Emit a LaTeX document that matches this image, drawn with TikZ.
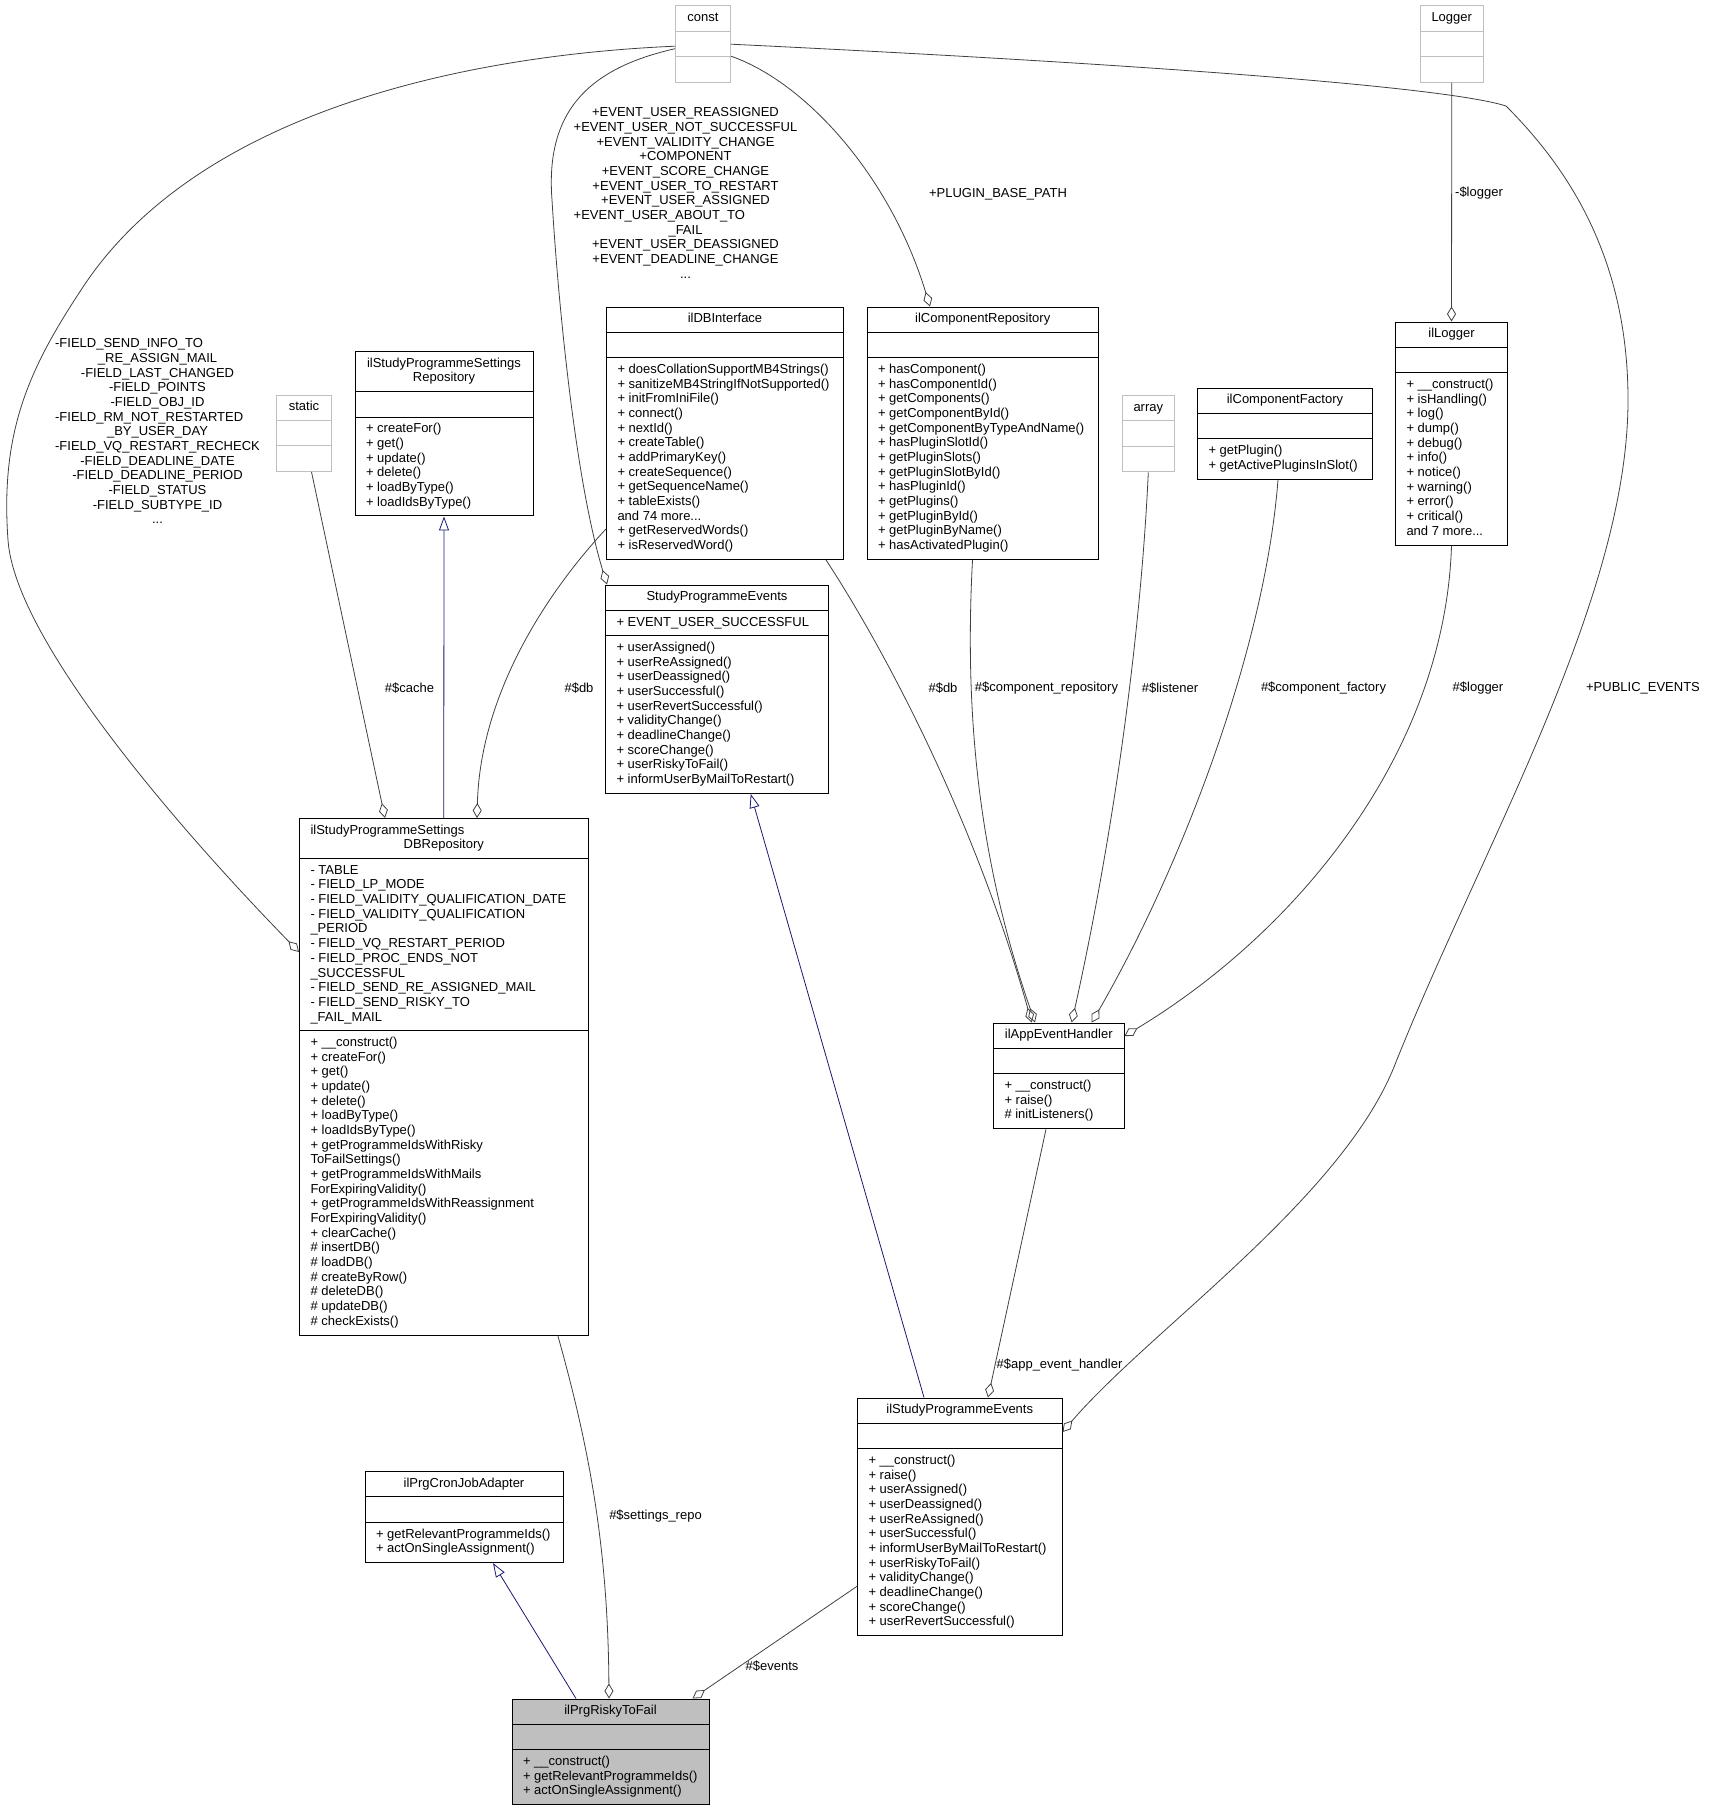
\documentclass[tikz,border=0pt]{standalone}
\usepackage{fontspec}
\setmainfont{Liberation Sans}
\usetikzlibrary{shapes.multipart,arrows.meta}
\definecolor{edgegray}{HTML}{404040}
\definecolor{inhblue}{HTML}{191970}
\definecolor{lightbox}{HTML}{BFBFBF}
\newcommand\umlrows[1]{\begin{tabular}{@{}l@{}}#1\end{tabular}}
\newcommand\umlhead[1]{\begin{tabular}{@{}c@{}}#1\end{tabular}}
\newcommand\umlempty{\rule[-4.4pt]{0pt}{14.67pt}}
\tikzset{
  umlfont/.style={font=\fontsize{13}{14.67}\selectfont},
  cls/.style={umlfont, draw=black, line width=1pt, rectangle split, rectangle split parts=3,
    rectangle split part align={center,left,left}, inner xsep=11pt, inner ysep=4.9pt,
    anchor=north west, fill=white},
  ghost/.style={cls, draw=lightbox},
  focus/.style={cls, fill=lightbox},
  uses/.style={draw=edgegray, line width=0.8pt, -{Diamond[open, length=15pt, width=9pt, line width=0.8pt]}},
  inh/.style={draw=inhblue, line width=0.8pt, -{Triangle[open, length=14pt, width=10pt, line width=0.8pt]}},
  elabel/.style={umlfont, inner sep=0pt, align=center},
}
\begin{document}
\begin{tikzpicture}[x=1pt,y=-1pt]
\useasboundingbox (0,0) rectangle (1708,1811);

% ---------- classes ----------
\node[ghost, minimum width=55pt] (nconst) at (675,5.5) {\umlhead{const}\nodepart{two}\umlempty\nodepart{three}\umlempty};
\node[ghost, minimum width=62pt] (nlogger) at (1420,5.5) {\umlhead{Logger}\nodepart{two}\umlempty\nodepart{three}\umlempty};
\node[ghost, minimum width=55pt] (nstatic) at (276,394.5) {\umlhead{static}\nodepart{two}\umlempty\nodepart{three}\umlempty};
\node[ghost, minimum width=51pt] (narray) at (1122,395) {\umlhead{array}\nodepart{two}\umlempty\nodepart{three}\umlempty};

\node[cls, minimum width=178pt] (sr) at (354.5,351) {\umlhead{ilStudyProgrammeSettings\\Repository}
 \nodepart{two}\umlempty
 \nodepart{three}\umlrows{+ createFor()\\+ get()\\+ update()\\+ delete()\\+ loadByType()\\+ loadIdsByType()}};

\node[cls, minimum width=237pt] (dbi) at (606,306.5) {\umlhead{ilDBInterface}
 \nodepart{two}\umlempty
 \nodepart{three}\umlrows{+ doesCollationSupportMB4Strings()\\+ sanitizeMB4StringIfNotSupported()\\+ initFromIniFile()\\+ connect()\\+ nextId()\\+ createTable()\\+ addPrimaryKey()\\+ createSequence()\\+ getSequenceName()\\+ tableExists()\\and 74 more...\\+ getReservedWords()\\+ isReservedWord()}};

\node[cls, minimum width=231.5pt] (cr) at (866.5,306.5) {\umlhead{ilComponentRepository}
 \nodepart{two}\umlempty
 \nodepart{three}\umlrows{+ hasComponent()\\+ hasComponentId()\\+ getComponents()\\+ getComponentById()\\+ getComponentByTypeAndName()\\+ hasPluginSlotId()\\+ getPluginSlots()\\+ getPluginSlotById()\\+ hasPluginId()\\+ getPlugins()\\+ getPluginById()\\+ getPluginByName()\\+ hasActivatedPlugin()}};

\node[cls, minimum width=175pt] (cf) at (1197,387.5) {\umlhead{ilComponentFactory}
 \nodepart{two}\umlempty
 \nodepart{three}\umlrows{+ getPlugin()\\+ getActivePluginsInSlot()}};

\node[cls, minimum width=112pt] (illogger) at (1395,321.5) {\umlhead{ilLogger}
 \nodepart{two}\umlempty
 \nodepart{three}\umlrows{+ \_\_construct()\\+ isHandling()\\+ log()\\+ dump()\\+ debug()\\+ info()\\+ notice()\\+ warning()\\+ error()\\+ critical()\\and 7 more...}};

\node[cls, minimum width=223pt] (spe) at (605,584.5) {\umlhead{StudyProgrammeEvents}
 \nodepart{two}\umlrows{+ EVENT\_USER\_SUCCESSFUL}
 \nodepart{three}\umlrows{+ userAssigned()\\+ userReAssigned()\\+ userDeassigned()\\+ userSuccessful()\\+ userRevertSuccessful()\\+ validityChange()\\+ deadlineChange()\\+ scoreChange()\\+ userRiskyToFail()\\+ informUserByMailToRestart()}};

\node[cls, minimum width=288.5pt] (db) at (299,818) {\umlhead{\makebox[266.5pt][l]{ilStudyProgrammeSettings}\\DBRepository}
 \nodepart{two}\umlrows{- TABLE\\- FIELD\_LP\_MODE\\- FIELD\_VALIDITY\_QUALIFICATION\_DATE\\- FIELD\_VALIDITY\_QUALIFICATION\\\_PERIOD\\- FIELD\_VQ\_RESTART\_PERIOD\\- FIELD\_PROC\_ENDS\_NOT\\\_SUCCESSFUL\\- FIELD\_SEND\_RE\_ASSIGNED\_MAIL\\- FIELD\_SEND\_RISKY\_TO\\\_FAIL\_MAIL}
 \nodepart{three}\umlrows{+ \_\_construct()\\+ createFor()\\+ get()\\+ update()\\+ delete()\\+ loadByType()\\+ loadIdsByType()\\+ getProgrammeIdsWithRisky\\ToFailSettings()\\+ getProgrammeIdsWithMails\\ForExpiringValidity()\\+ getProgrammeIdsWithReassignment\\ForExpiringValidity()\\+ clearCache()\\\# insertDB()\\\# loadDB()\\\# createByRow()\\\# deleteDB()\\\# updateDB()\\\# checkExists()}};

\node[cls, minimum width=130.5pt] (aeh) at (993,1022.5) {\umlhead{ilAppEventHandler}
 \nodepart{two}\umlempty
 \nodepart{three}\umlrows{+ \_\_construct()\\+ raise()\\\# initListeners()}};

\node[cls, minimum width=204.5pt] (ilspe) at (857,1397.5) {\umlhead{ilStudyProgrammeEvents}
 \nodepart{two}\umlempty
 \nodepart{three}\umlrows{+ \_\_construct()\\+ raise()\\+ userAssigned()\\+ userDeassigned()\\+ userReAssigned()\\+ userSuccessful()\\+ informUserByMailToRestart()\\+ userRiskyToFail()\\+ validityChange()\\+ deadlineChange()\\+ scoreChange()\\+ userRevertSuccessful()}};

\node[cls, minimum width=198pt] (cja) at (364.5,1471) {\umlhead{ilPrgCronJobAdapter}
 \nodepart{two}\umlempty
 \nodepart{three}\umlrows{+ getRelevantProgrammeIds()\\+ actOnSingleAssignment()}};

\node[focus, minimum width=197pt] (r2f) at (511.5,1698.5) {\umlhead{ilPrgRiskyToFail}
 \nodepart{two}\umlempty
 \nodepart{three}\umlrows{+ \_\_construct()\\+ getRelevantProgrammeIds()\\+ actOnSingleAssignment()}};

% ---------- connectors ----------
\draw[uses] ([yshift=-2pt]nconst.west) .. controls (470,55) and (200,110) .. (83,287)
  .. controls (30,367) and (0,430) .. (8,540)
  .. controls (15,640) and (180,830) .. ([yshift=-134pt]db.north west);
\draw[uses] ([yshift=-4.5pt]nconst.west) .. controls (590,68) and (545,110) .. (552,200)
  .. controls (558,300) and (575,480) .. ([xshift=2pt]spe.north west);
\draw[uses] ([yshift=-12pt]nconst.east) .. controls (805,82) and (890,175) .. ([xshift=63.5pt]cr.north west);
\draw[uses] (nconst.east) .. controls (1100,62) and (1440,85) .. (1506,106)
  .. controls (1570,170) and (1628,260) .. (1628,400)
  .. controls (1628,600) and (1480,850) .. (1394,1067)
  .. controls (1340,1200) and (1150,1330) .. ([yshift=-34.5pt]ilspe.north east);
\draw[uses] (nlogger.south) -- (illogger.north);
\draw[uses] ([xshift=7.5pt]nstatic.south) -- ([xshift=86pt]db.north west);
\draw[inh] (db.north) -- (sr.south);
\draw[uses] ([yshift=31pt]dbi.south west) .. controls (540,600) and (480,700) .. ([xshift=178pt]db.north west);
\draw[uses] ([xshift=-18pt]dbi.south east) .. controls (885,650) and (975,820) .. ([xshift=38.7pt]aeh.north west);
\draw[uses] ([xshift=106pt]cr.south west) .. controls (965,700) and (975,850) .. ([xshift=42pt]aeh.north west);
\draw[uses] (narray.south) .. controls (1140,650) and (1110,850) .. ([xshift=78.7pt]aeh.north west);
\draw[uses] ([xshift=81pt]cf.south west) .. controls (1265,650) and (1180,870) .. ([xshift=98.7pt]aeh.north west);
\draw[uses] (illogger.south) .. controls (1445,750) and (1300,930) .. ([yshift=-13.5pt]aeh.north east);
\draw[inh] ([xshift=67pt]ilspe.north west) -- ([xshift=145.7pt]spe.south west);
\draw[uses] ([xshift=53pt]aeh.south west) -- ([xshift=131pt]ilspe.north west);
\draw[uses] ([yshift=50pt]ilspe.south west) -- ([xshift=181pt]r2f.north west);
\draw[uses] ([xshift=-30.7pt]db.south east) .. controls (590,1450) and (608,1550) .. ([xshift=97.5pt]r2f.north west);
\draw[inh] ([xshift=64.5pt]r2f.north west) -- ([xshift=128.5pt]cja.south west);

% ---------- edge labels ----------
\node[elabel] (lfield) at (157.5,433) {\begin{tabular}{@{}c@{}}\multicolumn{1}{@{}l@{}}{-FIELD\_SEND\_INFO\_TO}\\
\_RE\_ASSIGN\_MAIL\\-FIELD\_LAST\_CHANGED\\-FIELD\_POINTS\\-FIELD\_OBJ\_ID\\
\multicolumn{1}{@{}l@{}}{-FIELD\_RM\_NOT\_RESTARTED}\\\_BY\_USER\_DAY\\-FIELD\_VQ\_RESTART\_RECHECK\\
-FIELD\_DEADLINE\_DATE\\-FIELD\_DEADLINE\_PERIOD\\-FIELD\_STATUS\\-FIELD\_SUBTYPE\_ID\\...\end{tabular}};
\node[elabel] (levents) at (685.5,194.5) {\begin{tabular}{@{}c@{}}+EVENT\_USER\_REASSIGNED\\+EVENT\_USER\_NOT\_SUCCESSFUL\\
+EVENT\_VALIDITY\_CHANGE\\+COMPONENT\\+EVENT\_SCORE\_CHANGE\\+EVENT\_USER\_TO\_RESTART\\+EVENT\_USER\_ASSIGNED\\
\multicolumn{1}{@{}l@{}}{+EVENT\_USER\_ABOUT\_TO}\\\_FAIL\\+EVENT\_USER\_DEASSIGNED\\+EVENT\_DEADLINE\_CHANGE\\...\end{tabular}};
\node[elabel] (lplugin) at (998,194) {+PLUGIN\_BASE\_PATH};
\node[elabel] (llogger1) at (1479,193.5) {-\$logger};
\node[elabel] (lcache) at (409.5,688) {\#\$cache};
\node[elabel] (ldb1) at (579,688) {\#\$db};
\node[elabel] (ldb2) at (943,688) {\#\$db};
\node[elabel] (lcomprepo) at (1046.5,688) {\#\$component\_repository};
\node[elabel] (llistener) at (1170,688) {\#\$listener};
\node[elabel] (lcompfact) at (1323.5,688) {\#\$component\_factory};
\node[elabel] (llogger2) at (1478,688) {\#\$logger};
\node[elabel] (lpublic) at (1643,688) {+PUBLIC\_EVENTS};
\node[elabel] (lappeh) at (1059.5,1364.6) {\#\$app\_event\_handler};
\node[elabel] (lsettings) at (655.5,1515.7) {\#\$settings\_repo};
\node[elabel] (levents2) at (772,1666) {\#\$events};
\end{tikzpicture}
\end{document}
